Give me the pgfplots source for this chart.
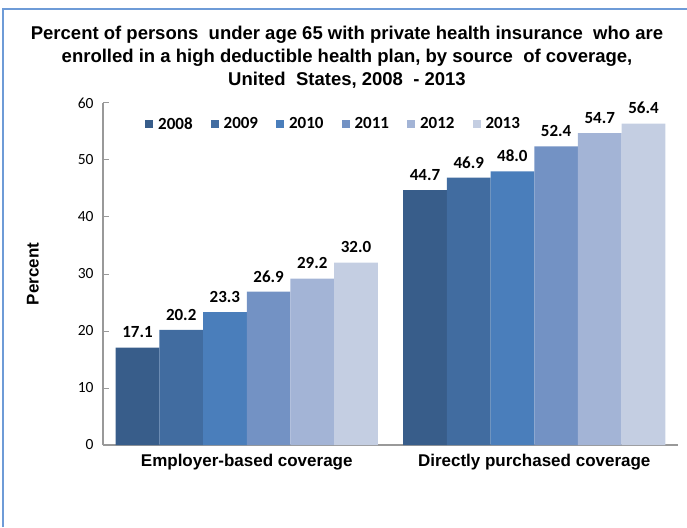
\documentclass[border=0pt]{standalone}
\usepackage{pgfplots}
\pgfplotsset{compat=1.18}
\usepackage{fontspec}
\setmainfont{Liberation Sans}
\newfontfamily\calibri{Carlito}
\definecolor{c08}{RGB}{56,93,138}
\definecolor{c09}{RGB}{65,108,160}
\definecolor{c10}{RGB}{74,126,187}
\definecolor{c11}{RGB}{115,146,196}
\definecolor{c12}{RGB}{163,180,214}
\definecolor{c13}{RGB}{196,206,226}
\definecolor{frame}{RGB}{110,155,215}
\begin{document}
\begin{tikzpicture}
\path[use as bounding box] (0pt,0pt) rectangle (687pt,527pt);
\draw[frame,line width=2pt] (3pt,0pt) -- (3pt,518pt) -- (687pt,518pt);
\node[align=center,font=\fontsize{18.5}{23}\selectfont\bfseries] at (347pt,470pt)
 {Percent of persons\ \ under age 65 with private health insurance\ \ who are\\
  enrolled in a high deductible health plan, by source\ \ of coverage,\\
  United\ \ States, 2008\ \ - 2013};
\begin{axis}[
  at={(103pt,82pt)}, anchor=south west,
  scale only axis, width=575pt, height=342pt,
  ybar=0pt, bar width=43.7pt,
  xmin=-0.5, xmax=1.5, ymin=0, ymax=60,
  xtick={0,1}, xticklabels={Employer-based coverage, Directly purchased coverage},
  x tick label style={font=\fontsize{17}{20}\selectfont\bfseries, yshift=-6pt},
  ytick={0,10,...,60},
  y tick label style={font=\calibri\fontsize{15.5}{18}\selectfont, xshift=-6pt},
  /pgf/number format/assume math mode=true,
  major x tick style={draw=none},
  tick align=inside, major tick length=6pt,
  y tick style={gray!80, line width=1pt},
  axis x line*=bottom, axis y line*=left,
  axis line style={gray!80, line width=1.2pt, -},
  ylabel={Percent},
  ylabel style={font=\fontsize{17}{20}\selectfont\bfseries, at={(axis description cs:-0.122,0.5)}, anchor=center},
  nodes near coords,
  nodes near coords style={font=\calibri\fontsize{17}{19}\selectfont\bfseries, color=black, yshift=6pt, /pgf/number format/fixed, /pgf/number format/fixed zerofill, /pgf/number format/precision=1},
  legend columns=6,
  legend style={at={(0.073,0.9386)}, anchor=west, draw=none, fill=none,
    font=\calibri\fontsize{17}{19}\selectfont\bfseries,
    /tikz/every even column/.append style={column sep=16pt},
    /tikz/every odd column/.append style={column sep=3pt},
    inner sep=0pt},
  legend image code/.code={\fill[#1,draw=none] (0pt,-4pt) rectangle (8pt,4pt);},
]
\addplot[fill=c08,draw=none] coordinates {(0,17.1) (1,44.7)};
\addplot[fill=c09,draw=none] coordinates {(0,20.2) (1,46.9)};
\addplot[fill=c10,draw=none] coordinates {(0,23.3) (1,48.0)};
\addplot[fill=c11,draw=none] coordinates {(0,26.9) (1,52.4)};
\addplot[fill=c12,draw=none] coordinates {(0,29.2) (1,54.7)};
\addplot[fill=c13,draw=none] coordinates {(0,32.0) (1,56.4)};
\legend{2008,2009,2010,2011,2012,2013}
\end{axis}
\end{tikzpicture}
\end{document}
